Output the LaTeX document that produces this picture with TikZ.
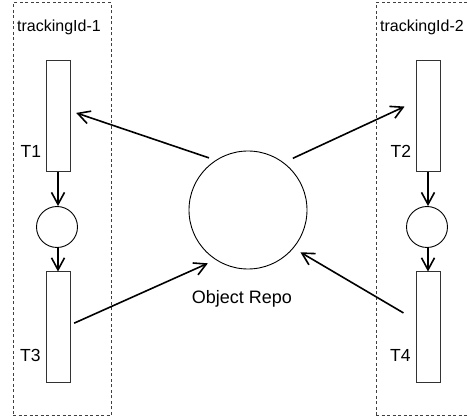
\documentclass[tikz,border=0pt]{standalone}
\usepackage{fontspec}
\setmainfont{Liberation Sans}
\usetikzlibrary{positioning, calc, arrows.meta}

\begin{document}
\begin{tikzpicture}[x=1pt, y=-1pt, auto, >={Straight Barb[length=12pt, width=13pt]}]
        % Define block styles
        \tikzstyle{group} = [rectangle, draw=black!75, line width=1pt, dash pattern=on 3pt off 2.5pt, inner sep=0pt]
        \tikzstyle{task} = [rectangle, draw=black!80, line width=1pt, minimum width=24pt, minimum height=111pt, inner sep=0pt]
        \tikzstyle{state} = [circle, draw, line width=0.9pt, minimum size=41pt, inner sep=0pt]
        \tikzstyle{tag} = [inner sep=0pt, anchor=base west, font=\fontsize{17.5}{20}\selectfont]
        \tikzstyle{link} = [->, line width=1.6pt]

        \useasboundingbox (0,0) rectangle (467,417);

        % Place nodes
        \node [group, minimum width=98pt, minimum height=413pt] (grp1) at (62,209.5) {};
        \node [group, minimum width=114pt, minimum height=413pt] (grp2) at (433,209.5) {};
        \node [tag, font=\fontsize{16}{18}\selectfont] (name1) at (17,32) {trackingId-1};
        \node [tag, font=\fontsize{16}{18}\selectfont] (name2) at (380,32) {trackingId-2};

        \node [task] (t1) at (58,116.5) {};
        \node [state] (c1) at (57,227) {};
        \node [task] (t3) at (58,327.5) {};
        \node [task] (t2) at (428,116.5) {};
        \node [state] (c2) at (427,227) {};
        \node [task] (t4) at (428,327.5) {};
        \node [circle, draw, line width=0.9pt, minimum size=118pt, inner sep=0pt] (repo) at (248,210) {};

        \node [tag] (t1name) at (20.5,158) {T1};
        \node [tag] (t3name) at (20,361.5) {T3};
        \node [tag] (t2name) at (390.5,158) {T2};
        \node [tag] (t4name) at (390,361.5) {T4};
        \node [tag, anchor=base, font=\fontsize{18}{20}\selectfont] (reponame) at (242,304) {Object Repo};

        % Draw connections as arrows
        \draw [link] (t1.south) -- (t1.south |- c1.north);
        \draw [link] (t3.north |- c1.south) -- (t3.north);
        \draw [link] (t2.south) -- (t2.south |- c2.north);
        \draw [link] (t4.north |- c2.south) -- (t4.north);
        \draw [link, shorten <=7pt, shorten >=6pt] (repo.123) -- ($(t1.east)+(0,-5.5)$);
        \draw [link, shorten <=10pt, shorten >=12pt] (repo.53) -- ($(t2.west)+(0,-15)$);
        \draw [link, shorten <=4pt, shorten >=8.5pt] ($(t3.east)+(0,-2.7)$) -- (repo.237);
        \draw [link, shorten <=14pt, shorten >=8pt] ($(t4.west)+(0,-7.5)$) -- (repo.320);
    \end{tikzpicture}
\end{document}
